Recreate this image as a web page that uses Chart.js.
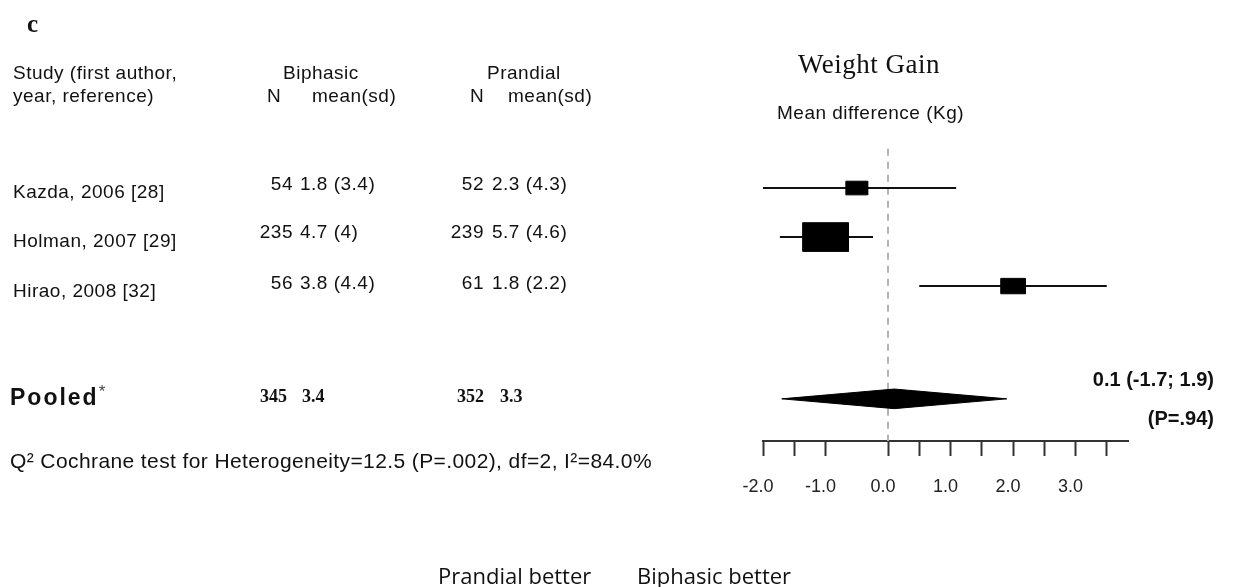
<!DOCTYPE html>
<html>
<head>
<meta charset="utf-8">
<script src="https://cdn.jsdelivr.net/npm/chart.js@4/dist/chart.umd.min.js"></script>
<style>
  html, body { margin: 0; padding: 0; background: #fff; }
  #wrap { position: relative; width: 1252px; height: 587px; overflow: hidden; }
  #forest { position: absolute; left: 0; top: 0; }
  .t { position: absolute; white-space: nowrap; line-height: 1; color: #111;
       font-family: "Liberation Sans", Arial, sans-serif; font-size: 19px; letter-spacing: 0.5px;
       transform: translateY(-50%); }
  .r { transform: translate(-100%, -50%); }
  .serifb { font-family: "Liberation Serif", serif; font-weight: bold; font-size: 18px; letter-spacing: 0; }
  .title { font-family: "Liberation Serif", serif; font-size: 27px; letter-spacing: 0.5px; }
  .pooled { font-weight: bold; font-size: 23px; letter-spacing: 2px; }
  .pooled sup { font-weight: normal; font-size: 17px; color: #444; letter-spacing: 0; }
  .q2 { font-size: 21px; letter-spacing: 0.4px; }
  .res { font-weight: bold; font-size: 20px; letter-spacing: 0; }
  .foot { font-family: "Open Sans", sans-serif; font-size: 22px; letter-spacing: 0; }
</style>
</head>
<body>
<div id="wrap">
  <canvas id="forest" width="1252" height="587"></canvas>
</div>
<script>
// study rows
const studies = ['Kazda, 2006 [28]', 'Holman, 2007 [29]', 'Hirao, 2008 [32]'];
const biphasicN = [54, 235, 56];
const biphasicMean = ['1.8 (3.4)', '4.7 (4)', '3.8 (4.4)'];
const prandialN = [52, 239, 61];
const prandialMean = ['2.3 (4.3)', '5.7 (4.6)', '1.8 (2.2)'];

// mean difference (Kg) with 95% CI
const meanDiff = [-0.5, -1.0, 2.0];
const ciLow = [-2.05, -1.73, 0.5];
const ciHigh = [1.09, -0.24, 3.5];
const weights = [15, 66, 19];   // % weight, sets box size
const rows = [1, 2, 3];

// pooled result
const pooledN = [345, 352];
const pooledMean = ['3.4', '3.3'];
const pooledDiff = 0.1;
const pooledLow = -1.7;
const pooledHigh = 1.9;
const pooledRow = 5.3;

const tickValues = [-2, -1.5, -1, 0, 0.5, 1, 1.5, 2, 2.5, 3, 3.5];

const wrap = document.getElementById('wrap');

function addText(html, x, y, cls) {
    const d = document.createElement('div');
    d.className = 't' + (cls ? ' ' + cls : '');
    d.style.left = x + 'px';
    d.style.top = y + 'px';
    d.innerHTML = html;
    wrap.appendChild(d);
    return d;
}

// left side table
addText('c', 27, 23, 'serifb').style.fontSize = '25px';
addText('Study (first author,', 13, 72);
addText('year, reference)', 13, 95);
addText('Biphasic', 283, 72);
addText('N', 267, 95);
addText('mean(sd)', 312, 95);
addText('Prandial', 487, 72);
addText('N', 470, 95);
addText('mean(sd)', 508, 95);

addText('Weight Gain', 798, 64, 'title');
addText('Mean difference (Kg)', 777, 112);

const nameY = [191, 240, 290];
const numY = [183, 231, 282];
studies.forEach((s, i) => {
    addText(s, 13, nameY[i]);
    addText(String(biphasicN[i]), 293, numY[i], 'r');
    addText(biphasicMean[i], 300, numY[i]);
    addText(String(prandialN[i]), 484, numY[i], 'r');
    addText(prandialMean[i], 492, numY[i]);
});

addText('Pooled<sup>*</sup>', 10, 396, 'pooled');
addText(String(pooledN[0]), 260, 396, 'serifb');
addText(pooledMean[0], 302, 396, 'serifb');
addText(String(pooledN[1]), 457, 396, 'serifb');
addText(pooledMean[1], 500, 396, 'serifb');

addText('Q\u00b2 Cochrane test for Heterogeneity=12.5 (P=.002), df=2, I\u00b2=84.0%', 10, 460, 'q2');

addText(pooledDiff.toFixed(1) + ' (' + pooledLow.toFixed(1) + '; ' + pooledHigh.toFixed(1) + ')', 1214, 379, 'res r');
addText('(P=.94)', 1214, 418, 'res r');

addText('Prandial better', 438, 575, 'foot');
addText('Biphasic better', 637, 575, 'foot');

// forest plot datasets
const datasets = [];

// boxes (drawn on top, so first)
studies.forEach((s, i) => {
    const hw = 0.045 * Math.sqrt(weights[i]);
    const hh = hw * 0.8;
    const m = meanDiff[i], y = rows[i];
    datasets.push({
        label: s + ' box',
        data: [
            {x: m - hw, y: y - hh}, {x: m + hw, y: y - hh},
            {x: m + hw, y: y + hh}, {x: m - hw, y: y + hh}, {x: m - hw, y: y - hh}
        ],
        showLine: true, fill: 'shape', backgroundColor: '#000', borderColor: '#000',
        borderWidth: 1, pointRadius: 0, tension: 0
    });
});

// pooled diamond
datasets.push({
    label: 'Pooled',
    data: [
        {x: pooledLow, y: pooledRow}, {x: pooledDiff, y: pooledRow - 0.2},
        {x: pooledHigh, y: pooledRow}, {x: pooledDiff, y: pooledRow + 0.2},
        {x: pooledLow, y: pooledRow}
    ],
    showLine: true, fill: 'shape', backgroundColor: '#000', borderColor: '#000',
    borderWidth: 1, pointRadius: 0, tension: 0
});

// confidence intervals
studies.forEach((s, i) => {
    datasets.push({
        label: s + ' CI',
        data: [{x: ciLow[i], y: rows[i]}, {x: ciHigh[i], y: rows[i]}],
        showLine: true, borderColor: '#111', borderWidth: 2, pointRadius: 0
    });
});

// line of no effect
datasets.push({
    label: 'zero',
    data: [{x: 0, y: 0.2}, {x: 0, y: 6.2}],
    showLine: true, borderColor: '#b4b4b4', borderWidth: 2, borderDash: [7, 6], pointRadius: 0
});

new Chart(document.getElementById('forest'), {
    type: 'scatter',
    data: { datasets: datasets },
    options: {
        responsive: false,
        animation: false,
        devicePixelRatio: 1,
        layout: { padding: { left: 763, right: 124, top: 139, bottom: 0 } },
        plugins: { legend: { display: false }, tooltip: { enabled: false } },
        scales: {
            x: {
                type: 'linear',
                position: 'bottom',
                min: -2,
                max: 3.84,
                afterBuildTicks: scale => { scale.ticks = tickValues.map(v => ({ value: v })); },
                afterFit: scale => { scale.height = 146; },
                grid: { drawOnChartArea: false, drawTicks: true, tickLength: 15, tickWidth: 2, tickColor: '#333' },
                border: { display: true, color: '#333', width: 2 },
                ticks: {
                    autoSkip: false,
                    maxRotation: 0,
                    padding: 20,
                    labelOffset: -5,
                    color: '#222',
                    font: { family: 'Liberation Sans', size: 18 },
                    callback: v => Number.isInteger(v) ? v.toFixed(1) : ''
                }
            },
            y: {
                type: 'linear',
                reverse: true,
                min: 0,
                max: 6.16,
                display: false
            }
        }
    }
});
</script>
</body>
</html>
